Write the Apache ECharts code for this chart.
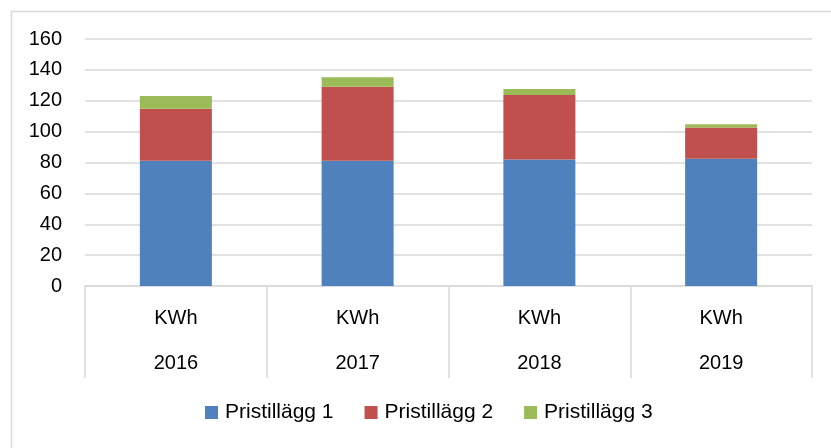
<!DOCTYPE html>
<html>
<head>
<meta charset="utf-8">
<script src="https://cdn.jsdelivr.net/npm/echarts@6/dist/echarts.min.js"></script>
<style>
  html, body { margin: 0; padding: 0; background: #fff; }
  #chart { width: 831px; height: 448px; }
</style>
</head>
<body>
<div id="chart"></div>
<script>
  // data
  var years = ['2016', '2017', '2018', '2019'];
  var units = ['KWh', 'KWh', 'KWh', 'KWh'];
  var seriesNames = ['Pristillägg 1', 'Pristillägg 2', 'Pristillägg 3'];
  var tillagg1 = [81.1, 81.1, 82.0, 82.4];
  var tillagg2 = [33.7, 48.0, 41.7, 20.3];
  var tillagg3 = [8.2, 6.2, 3.9, 2.0];
  var colors = ['#4F81BD', '#C0504D', '#9BBB59'];

  var chart = echarts.init(document.getElementById('chart'));
  var font = '"Liberation Sans", Arial, sans-serif';
  var fs = 20;

  function bar(name, data, color) {
    return {
      name: name,
      type: 'bar',
      stack: 'total',
      data: data,
      barWidth: 72,
      itemStyle: { color: color },
      emphasis: { disabled: true }
    };
  }

  chart.setOption({
    animation: false,
    textStyle: { fontFamily: font },
    graphic: [{
      type: 'rect',
      left: 9, top: 9,
      shape: { width: 900, height: 600 },
      style: { fill: 'none', stroke: '#d9d9d9', lineWidth: 1.5 },
      silent: true
    }],
    grid: { left: 85, right: 19, top: 39, bottom: 162 },
    legend: {
      data: seriesNames,
      bottom: 20,
      left: 200,
      itemWidth: 13,
      itemHeight: 13,
      itemGap: 31,
      icon: 'rect',
      textStyle: { fontSize: 21, color: '#000', fontFamily: font, padding: [0, 0, 0, 2] }
    },
    xAxis: [{
      type: 'category',
      data: units,
      axisLine: { lineStyle: { color: '#d9d9d9', width: 1.5 } },
      axisTick: { show: true, interval: 0, length: 92, lineStyle: { color: '#d9d9d9', width: 1.5 } },
      axisLabel: { margin: 22, fontSize: fs, color: '#000', interval: 0 }
    }, {
      type: 'category',
      data: years,
      position: 'bottom',
      axisLine: { show: false },
      axisTick: { show: false },
      axisLabel: { margin: 67, fontSize: fs, color: '#000', interval: 0 }
    }],
    yAxis: {
      type: 'value',
      min: 0,
      max: 160,
      interval: 20,
      axisLine: { show: false },
      axisTick: { show: false },
      axisLabel: { margin: 23, fontSize: fs, color: '#000' },
      splitLine: { lineStyle: { color: '#d9d9d9', width: 1.5 } }
    },
    series: [
      bar(seriesNames[0], tillagg1, colors[0]),
      bar(seriesNames[1], tillagg2, colors[1]),
      bar(seriesNames[2], tillagg3, colors[2])
    ]
  });
</script>
</body>
</html>
